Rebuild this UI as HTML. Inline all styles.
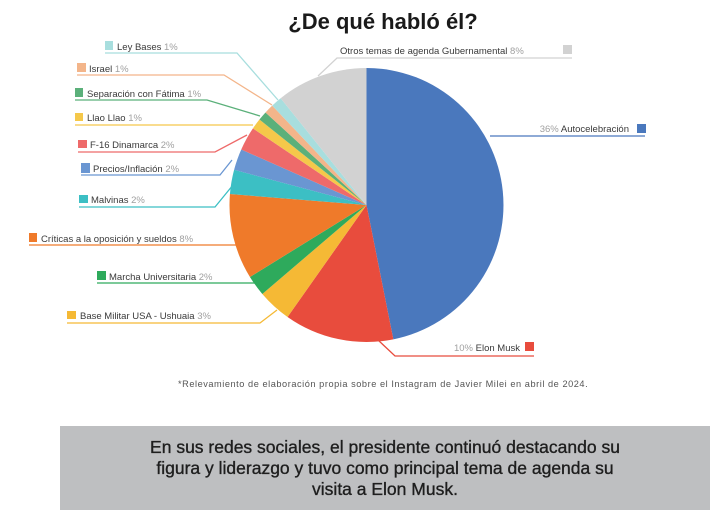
<!DOCTYPE html>
<html><head><meta charset="utf-8"><style>
body{margin:0;width:725px;height:523px;background:#fff;overflow:hidden;font-family:"Liberation Sans",sans-serif}
svg{position:absolute;left:0;top:0}
.l{font-size:9.5px;fill:#3a3a3a}
.p{fill:#a0a0a0}
</style></head><body>
<svg width="725" height="523" xmlns="http://www.w3.org/2000/svg">
<text x="383" y="29" text-anchor="middle" font-size="22" font-weight="bold" fill="#1a1a1a">¿De qué habló él?</text>
<g id="pie"></g>
<g fill="none" stroke-width="1.3">
<polyline stroke="#a8dede" points="105,53 237,53 278,100"/>
<polyline stroke="#f3b58a" points="77,75 224,75 272,105"/>
<polyline stroke="#5bb07a" points="75,100 207,100 260,116"/>
<polyline stroke="#f5c84a" points="75,125 253,125"/>
<polyline stroke="#ee6a6a" points="78,152 215,152 247,135"/>
<polyline stroke="#6a96d2" points="81,175 220,175 232,160"/>
<polyline stroke="#3cbfc4" points="79,207 215,207 233,185"/>
<polyline stroke="#ef7a2a" points="29,245 236,245"/>
<polyline stroke="#2eaa5c" points="97,283 256,283"/>
<polyline stroke="#f5b935" points="67,323 260,323 277,310"/>
<polyline stroke="#d2d2d2" points="318,76 337,58 572,58"/>
<polyline stroke="#4a78bd" points="490,136 645,136"/>
<polyline stroke="#e84c3d" points="378,340 395,356 534,356"/>
</g>
<rect x="105" y="41" width="8" height="9" fill="#a8dede"/><text class="l" x="117" y="50">Ley Bases <tspan class="p">1%</tspan></text>
<rect x="77" y="63" width="9" height="9" fill="#f3b58a"/><text class="l" x="89" y="72">Israel <tspan class="p">1%</tspan></text>
<rect x="75" y="88" width="8" height="9" fill="#5bb07a"/><text class="l" x="87" y="97">Separación con Fátima <tspan class="p">1%</tspan></text>
<rect x="75" y="113" width="8" height="8" fill="#f5c84a"/><text class="l" x="87" y="121">Llao Llao <tspan class="p">1%</tspan></text>
<rect x="78" y="140" width="9" height="8" fill="#ee6a6a"/><text class="l" x="90" y="148">F-16 Dinamarca <tspan class="p">2%</tspan></text>
<rect x="81" y="163" width="9" height="10" fill="#6a96d2"/><text class="l" x="93" y="172">Precios/Inflación <tspan class="p">2%</tspan></text>
<rect x="79" y="195" width="9" height="8" fill="#3cbfc4"/><text class="l" x="91" y="203">Malvinas <tspan class="p">2%</tspan></text>
<rect x="29" y="233" width="8" height="9" fill="#ef7a2a"/><text class="l" x="41" y="242">Críticas a la oposición y sueldos <tspan class="p">8%</tspan></text>
<rect x="97" y="271" width="9" height="9" fill="#2eaa5c"/><text class="l" x="109" y="280">Marcha Universitaria <tspan class="p">2%</tspan></text>
<rect x="67" y="311" width="9" height="8" fill="#f5b935"/><text class="l" x="80" y="319">Base Militar USA - Ushuaia <tspan class="p">3%</tspan></text>
<text class="l" x="340" y="54">Otros temas de agenda Gubernamental <tspan class="p">8%</tspan></text><rect x="563" y="45" width="9" height="9" fill="#d2d2d2"/>
<text class="l" x="629" y="132" text-anchor="end"><tspan class="p">36%</tspan> Autocelebración</text><rect x="637" y="124" width="9" height="9" fill="#4a78bd"/>
<text class="l" x="520" y="351" text-anchor="end"><tspan class="p">10%</tspan> Elon Musk</text><rect x="525" y="342" width="9" height="9" fill="#e84c3d"/>
<text x="383" y="387" text-anchor="middle" font-size="9.2" letter-spacing="0.35" fill="#555" textLength="410" lengthAdjust="spacing">*Relevamiento de elaboración propia sobre el Instagram de Javier Milei en abril de 2024.</text>
<rect x="60" y="426" width="650" height="84" fill="#bebfc1"/>
<g font-size="17.5" fill="#1e1e1e" text-anchor="middle" stroke="#1e1e1e" stroke-width="0.35">
<text x="385" y="453">En sus redes sociales, el presidente continuó destacando su</text>
<text x="385" y="474">figura y liderazgo y tuvo como principal tema de agenda su</text>
<text x="385" y="495">visita a Elon Musk.</text>
</g>
</svg>
<script>
var cx=366.5,cy=205,r=137;
var s=[[0,168.7,"#4a78bd"],[168.7,215.2,"#e84c3d"],[215.2,229.5,"#f5b935"],[229.5,238.3,"#2eaa5c"],[238.3,274.6,"#ef7a2a"],[274.6,284.9,"#3cbfc4"],[284.9,293.9,"#6a96d2"],[293.9,304,"#ee6a6a"],[304,308.6,"#f5c84a"],[308.6,312.5,"#5bb07a"],[312.5,316.5,"#f3b58a"],[316.5,321.2,"#a8dede"],[321.2,360,"#d2d2d2"]];
function pt(a){a=a*Math.PI/180;return (cx+r*Math.sin(a)).toFixed(2)+","+(cy-r*Math.cos(a)).toFixed(2);}
var h="";s.forEach(function(q){h+='<path d="M'+cx+','+cy+' L'+pt(q[0])+' A'+r+','+r+' 0 '+(q[1]-q[0]>180?1:0)+' 1 '+pt(q[1])+' Z" fill="'+q[2]+'"/>';});
document.getElementById("pie").innerHTML=h;
</script>
</body></html>
